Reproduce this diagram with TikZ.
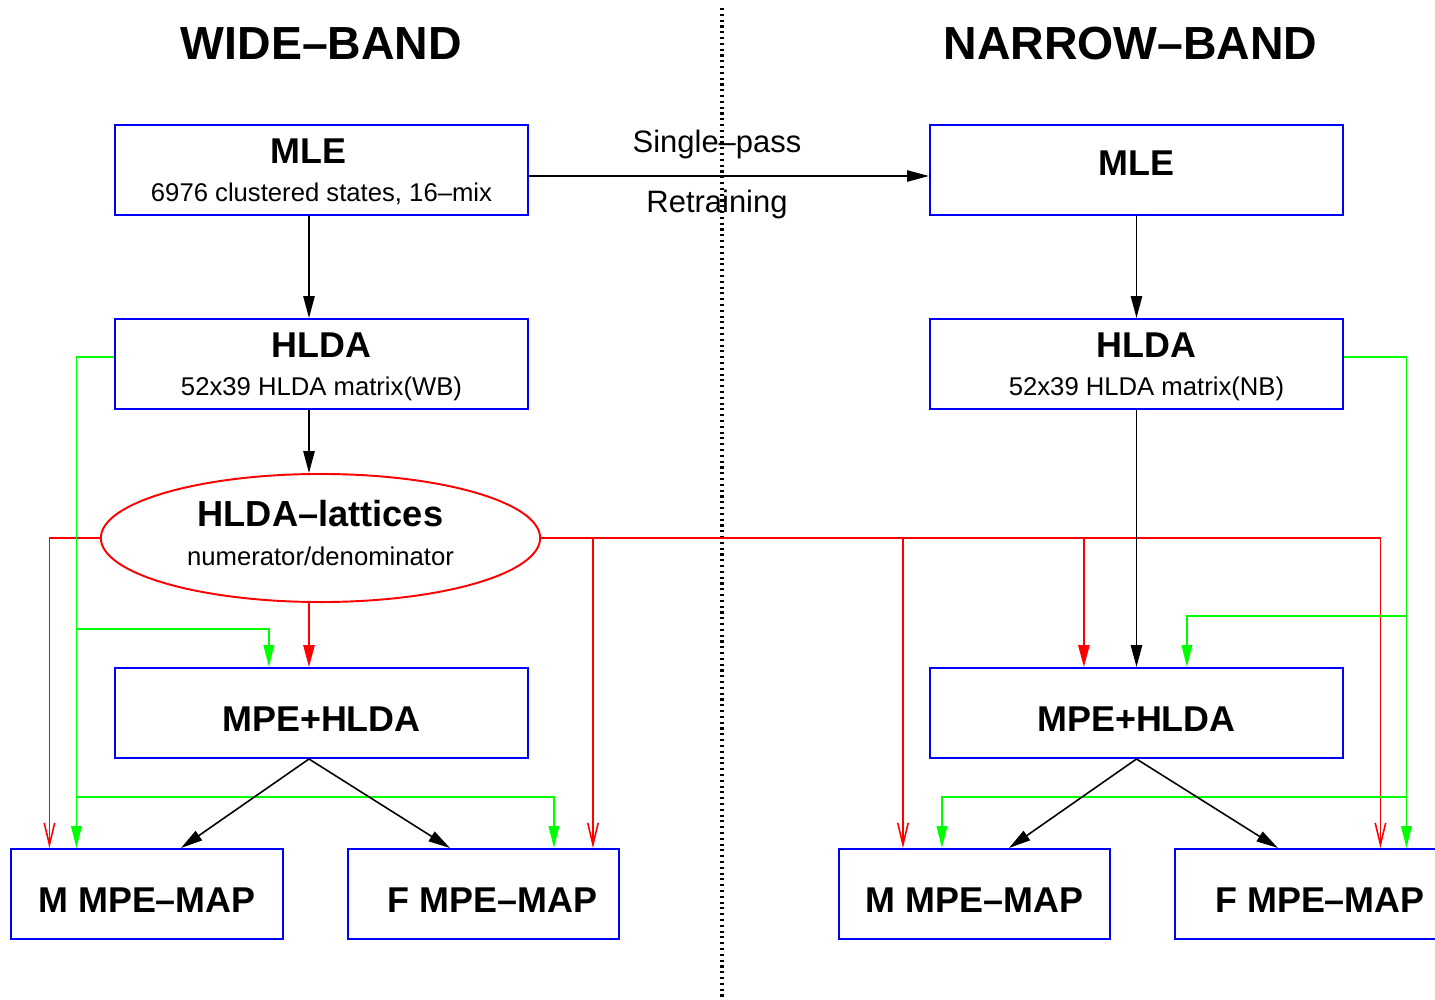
\documentclass[tikz,border=0pt]{standalone}
\usepackage{fontspec}
\setmainfont{Liberation Sans}
\usetikzlibrary{calc, arrows.meta, positioning, shapes.geometric}
\definecolor{xblue}{RGB}{0,0,255}
\definecolor{xred}{RGB}{255,0,0}
\definecolor{xgreen}{RGB}{0,255,0}
\newcommand\subsize{\fontsize{7.3}{10.8}\selectfont\mdseries}

\begin{document}
\begin{tikzpicture}[
   x = 0.01cm, y = -0.01cm,
   line width = 0.45pt,
   every node/.style = {inner sep = 0pt},
   band/.style = {font = \fontsize{13.2}{15}\selectfont\bfseries},
   stage/.style = {draw = xblue, line width = 0.55pt, minimum width = 4.13cm, minimum height = 0.9cm, align = center, font = \fontsize{10.2}{10.8}\selectfont\bfseries},
   single/.style = {stage, text height = 10.8pt, text depth = 0pt},
   twoline/.style = {stage, text depth = -0.4pt},
   mapstage/.style = {single, minimum width = 2.71cm},
   lattice/.style = {draw = xred, line width = 0.55pt, ellipse, minimum width = 4.39cm, minimum height = 1.28cm, align = center, text depth = 3pt, font = \fontsize{10.3}{11.1}\selectfont\bfseries},
   pass/.style = {font = \fontsize{8.8}{10}\selectfont},
   flow/.style = {-{Triangle[length = 6.2pt, width = 3.2pt]}},
   redflow/.style = {xred, -{Triangle[length = 6.2pt, width = 3.2pt]}},
   redfeed/.style = {xred, -{Straight Barb[length = 6.2pt, width = 3pt]}},
   greenflow/.style = {xgreen, -{Triangle[length = 6.2pt, width = 3pt]}},
   divider/.style = {line width = 1pt, dash pattern = on 0.6pt off 1.05pt}]
   \useasboundingbox (0,0) rectangle (1435,1000);

   \node[band] (wbtitle) at (321.5,43.5) {WIDE--BAND};
   \node[band] (nbtitle) at (1130.5,43.5) {NARROW--BAND};

   \node[stage, text depth = 0pt] (mleWB) at (321.5,170) {MLE\hspace*{0.26cm}\\{\subsize 6976 clustered states, 16--mix}};
   \node[stage, text depth = 4pt] (mleNB) at (1136.5,170) {MLE};
   \node[twoline] (hldaWB) at (321.5,364) {HLDA\\{\subsize 52x39 HLDA matrix(WB)}};
   \node[twoline] (hldaNB) at (1136.5,364) {\hspace*{0.2cm}HLDA\\\hspace*{0.2cm}{\subsize 52x39 HLDA matrix(NB)}};
   \node[lattice] (latWB) at (320.5,538) {HLDA--lattices\\{\subsize numerator/denominator}};
   \node[single] (mpeWB) at (321.5,713) {MPE+HLDA};
   \node[single] (mpeNB) at (1136.5,713) {MPE+HLDA};
   \node[mapstage] (mmapWB) at (147,894) {M MPE--MAP};
   \node[mapstage] (fmapWB) at (483.5,894) {\hspace*{0.18cm}F MPE--MAP};
   \node[mapstage] (mmapNB) at (974.5,894) {M MPE--MAP};
   \node[mapstage] (fmapNB) at (1311,894) {\hspace*{0.18cm}F MPE--MAP};

   \coordinate (wbaxis) at (309,0);
   \coordinate (passrow) at (0,176);
   \coordinate (wbgreen) at (0,629);
   \coordinate (nbgreen) at (0,616);
   \coordinate (greenrow) at (0,797);
   \coordinate (divtop) at (722,8);
   \coordinate (divbot) at (722,1000);

   \draw[divider] (divtop) -- (divbot);

   \coordinate (rWBm) at ($(mmapWB.north west)+(39,0)$);
   \coordinate (rWBf) at ($(fmapWB.north west)+(246,0)$);
   \coordinate (rNBm) at ($(mmapNB.north west)+(65,0)$);
   \coordinate (rNBmpe) at ($(mpeNB.north west)+(155,0)$);
   \coordinate (rNBf) at ($(fmapNB.north west)+(206,0)$);
   \draw[redflow] (latWB.south -| wbaxis) -- (mpeWB.north -| wbaxis);
   \draw[redfeed] (latWB.west) -| (rWBm);
   \draw[redfeed] (latWB.east) -| (rNBf);
   \draw[redfeed] (latWB.east -| rWBf) -- (rWBf);
   \draw[redfeed] (latWB.east -| rNBm) -- (rNBm);
   \draw[redflow] (latWB.east -| rNBmpe) -- (rNBmpe);

   \coordinate (gWBm) at ($(mmapWB.north west)+(66,0)$);
   \coordinate (gWBmpe) at ($(mpeWB.north west)+(155,0)$);
   \coordinate (gWBf) at ($(fmapWB.north west)+(207,0)$);
   \coordinate (gNBf) at ($(fmapNB.north west)+(232,0)$);
   \coordinate (gNBmpe) at ($(mpeNB.north west)+(258,0)$);
   \coordinate (gNBm) at ($(mmapNB.north west)+(104,0)$);
   \draw[greenflow] ($(hldaWB.west)+(0,-7)$) -| (gWBm);
   \draw[greenflow] (gWBm |- wbgreen) -| (gWBmpe);
   \draw[greenflow] (gWBm |- greenrow) -| (gWBf);
   \draw[greenflow] ($(hldaNB.east)+(0,-7)$) -| (gNBf);
   \draw[greenflow] (gNBf |- nbgreen) -| (gNBmpe);
   \draw[greenflow] (gNBf |- greenrow) -| (gNBm);

   \draw[flow] (mleWB.east |- passrow) -- node[pass, pos=0.47, above=0.16cm] (singlepass) {Single--pass} node[pass, pos=0.47, below=0.13cm] (retrain) {Retraining} (mleNB.west |- passrow);
   \draw[flow] (mleWB.south -| wbaxis) -- (hldaWB.north -| wbaxis);
   \draw[flow] (hldaWB.south -| wbaxis) -- (latWB.north -| wbaxis);
   \draw[flow] (mleNB.south) -- (hldaNB.north);
   \draw[flow] (hldaNB.south) -- (mpeNB.north);
   \draw[flow] (mpeWB.south -| wbaxis) -- ($(mmapWB.north)+(34,0)$);
   \draw[flow] (mpeWB.south -| wbaxis) -- ($(fmapWB.north)+(-33.5,0)$);
   \draw[flow] (mpeNB.south) -- ($(mmapNB.north)+(34.5,0)$);
   \draw[flow] (mpeNB.south) -- ($(fmapNB.north)+(-33,0)$);
\end{tikzpicture}
\end{document}
